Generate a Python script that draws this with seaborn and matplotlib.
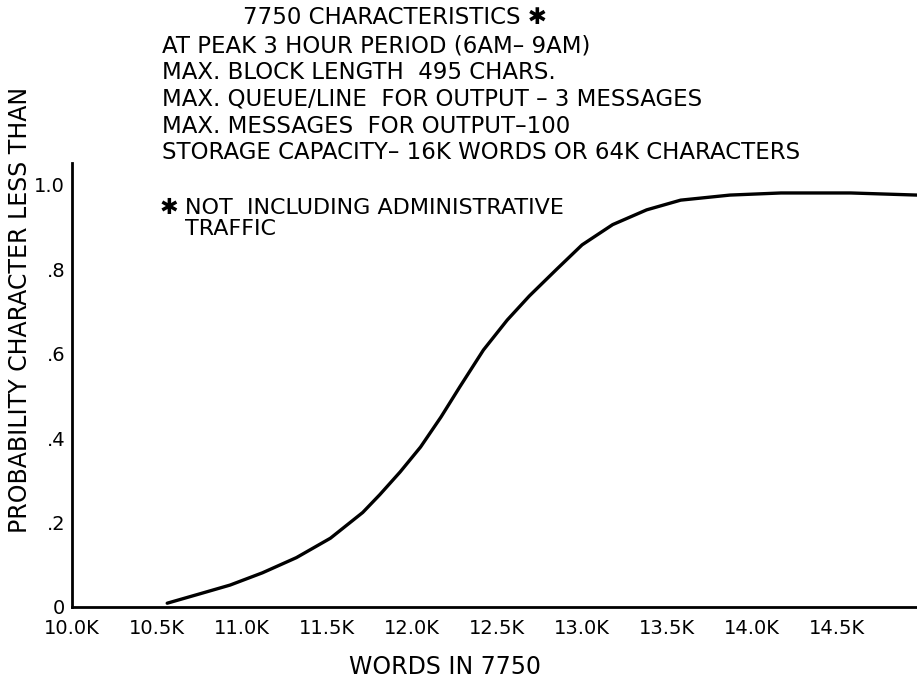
import numpy as np
import pandas as pd
import matplotlib
matplotlib.use("Agg")
import matplotlib.pyplot as plt
import seaborn as sns

# words in 7750 (thousands) vs probability character count is less than
words_k = [10.56, 10.75, 10.93, 11.12, 11.32, 11.52, 11.71, 11.81, 11.93,
           12.05, 12.17, 12.28, 12.42, 12.56, 12.69, 12.85, 13.00, 13.18,
           13.38, 13.58, 13.87, 14.17, 14.58, 14.97]
prob = [0.009, 0.031, 0.052, 0.081, 0.117, 0.163, 0.224, 0.266, 0.320,
        0.379, 0.450, 0.521, 0.609, 0.680, 0.737, 0.800, 0.858, 0.906,
        0.941, 0.964, 0.976, 0.981, 0.981, 0.976]

x_ticks = [10.0, 10.5, 11.0, 11.5, 12.0, 12.5, 13.0, 13.5, 14.0, 14.5]
x_labels = ["10.0K", "10.5K", "11.0K", "11.5K", "12.0K", "12.5K",
            "13.0K", "13.5K", "14.0K", "14.5K"]
y_ticks = [0, 0.2, 0.4, 0.6, 0.8, 1.0]
y_labels = ["0", ".2", ".4", ".6", ".8", "1.0"]

header = ["AT PEAK 3 HOUR PERIOD (6AM\u2013 9AM)",
          "MAX. BLOCK LENGTH  495 CHARS.",
          "MAX. QUEUE/LINE  FOR OUTPUT \u2013 3 MESSAGES",
          "MAX. MESSAGES  FOR OUTPUT\u2013100",
          "STORAGE CAPACITY\u2013 16K WORDS OR 64K CHARACTERS"]

sns.set_style("white")
plt.rcParams['font.family'] = ['DejaVu Sans']
plt.rcParams['text.color'] = 'black'
plt.rcParams['axes.labelcolor'] = 'black'

df = pd.DataFrame({"words": words_k, "prob": prob})

W, H = 917, 682
fig = plt.figure(figsize=(W / 100, H / 100), dpi=100)
ax = fig.add_axes([72 / W, (H - 607) / H, (W - 72) / W, (607 - 163) / H])

sns.lineplot(data=df, x="words", y="prob", ax=ax, color="black",
             linewidth=2.4, estimator=None, sort=False)

ax.set_xlim(10.0, 14.97)
ax.set_ylim(0, 1.052)
ax.set_xticks(x_ticks)
ax.set_xticklabels(x_labels)
ax.set_yticks(y_ticks)
ax.set_yticklabels(y_labels)
ax.tick_params(axis="both", direction="in", length=13, width=1.6,
               color="black", labelsize=14, labelcolor="black")
ax.tick_params(axis="x", pad=9)
ax.tick_params(axis="y", pad=5)

for side in ["top", "right"]:
    ax.spines[side].set_visible(False)
for side in ["left", "bottom"]:
    ax.spines[side].set_color("black")
    ax.spines[side].set_linewidth(2.0)

ax.set_xlabel("WORDS IN 7750", fontsize=17)
ax.xaxis.set_label_coords((445 - 72) / (W - 72), (607 - 655) / 444)
ax.set_ylabel("PROBABILITY CHARACTER LESS THAN", fontsize=17)
ax.yaxis.set_label_coords(-0.047, (607 - 310) / 444)

# header block
fig.text(243 / W, 1 - 18 / H, "7750 CHARACTERISTICS \u2731", fontsize=16.5,
         va="center", ha="left")
for i, line in enumerate(header):
    fig.text(162 / W, 1 - (46 + i * 26.7) / H, line, fontsize=16.5,
             va="center", ha="left")

# footnote
fig.text(160 / W, 1 - 208 / H, "\u2731", fontsize=16, va="center", ha="left")
fig.text(185 / W, 1 - 208 / H, "NOT  INCLUDING ADMINISTRATIVE",
         fontsize=16, va="center", ha="left")
fig.text(185 / W, 1 - 229 / H, "TRAFFIC", fontsize=16, va="center", ha="left")

fig.savefig("out.png", dpi=100)
